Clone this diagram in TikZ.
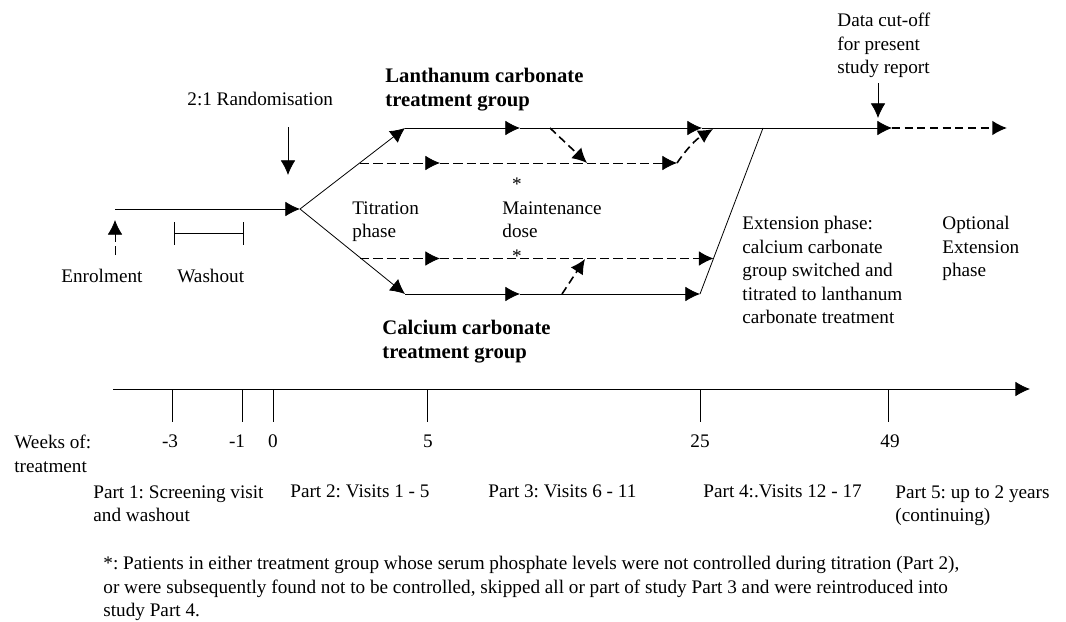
\documentclass[tikz,border=0pt]{standalone}
\usepackage{fontspec}
\setmainfont{Liberation Serif}
\usetikzlibrary{arrows.meta}
\usetikzlibrary{calc}
\frenchspacing

\begin{document}
\begin{tikzpicture}[x=0.75pt,y=-0.75pt,line width=0.6pt,
    arr/.style={-{Latex[length=11pt,width=11pt]}},
    dsh/.style={dash pattern=on 7pt off 3pt},
    bdsh/.style={line width=1.2pt,dash pattern=on 6pt off 3.5pt},
    lbl/.style={inner sep=0pt,anchor=base west,font=\fontsize{14.4}{17.6}\selectfont},
    blk/.style={inner sep=0pt,anchor=north west,align=left,font=\fontsize{14.4}{17.6}\selectfont},
    grp/.style={blk,font=\fontsize{15.5}{17.6}\selectfont\bfseries},
    num/.style={inner sep=0pt,anchor=base,font=\fontsize{14.4}{17.6}\selectfont}]
    \useasboundingbox (0,0) rectangle (1066,621);
    % main line and the two groups
    \coordinate (st) at (115,209);
    \coordinate (br) at (300,209);
    \coordinate (lu) at (405,128);
    \coordinate (lua) at (520,128);
    \coordinate (lub) at (702,128);
    \coordinate (cut) at (892,128);
    \coordinate (fin) at (1007,128);
    \coordinate (top) at (763,128);
    \coordinate (cl) at (405,294);
    \coordinate (cla) at (520,294);
    \coordinate (clb) at (700,294);
    \coordinate (lm) at (360,163);
    \coordinate (lma) at (440,163);
    \coordinate (lmb) at (677,163);
    \coordinate (mrg) at (713,129);
    \coordinate (cm) at (360,258.5);
    \coordinate (cma) at (440,258.5);
    \coordinate (cmb) at ($(clb)!0.214!(top)$);
    \draw[arr] (st) -- (br);
    \draw[arr] (br) -- (lu);
    \draw[arr] (lu) -- (lua);
    \draw[arr] (lua) -- (lub);
    \draw[arr] (lub) -- (cut);
    \draw[bdsh,arr] (cut) -- (fin);
    \draw[arr] (br) -- (cl);
    \draw[arr] (cl) -- (cla);
    \draw[arr] (cla) -- (clb);
    \draw (clb) -- (top);
    \draw[dsh,arr] (lm) -- (lma);
    \draw[dsh,arr] (lma) -- (lmb);
    \draw[dsh,arr] (cm) -- (cma);
    \draw[dsh,arr] (cma) -- (cmb |- cma);
    % patients moved between dose levels
    \coordinate (dn1) at (550,128);
    \coordinate (dn2) at (587,163);
    \coordinate (up1) at (562,294);
    \coordinate (up2) at (585,259);
    \draw[bdsh,arr] (dn1) -- (dn2);
    \draw[bdsh,arr] (lmb) to[bend left=12] (mrg);
    \draw[bdsh,arr] (up1) -- (up2);
    \node[num] (s1) at (517,190) {*};
    \node[num] (s2) at (517,262) {*};
    % enrolment, washout, randomisation, cut-off
    \coordinate (en0) at (115,255);
    \coordinate (en1) at (115,220);
    \draw[dsh,arr] (en0) -- (en1);
    \coordinate (wa) at (174,222);
    \coordinate (wb) at (243,222);
    \draw (wa) -- ++(0,23) (wb) -- ++(0,23);
    \draw (wa) ++(0,11) -- ($(wb)+(0,11)$);
    \coordinate (ra0) at (288,127);
    \coordinate (ra1) at (288,175);
    \draw[arr] (ra0) -- (ra1);
    \coordinate (co0) at (878,83);
    \coordinate (co1) at (878,118);
    \draw[arr] (co0) -- (co1);
    % labels
    \node[lbl] (rand) at (187,105) {2:1 Randomisation};
    \node[grp] (lan) at (385,68) {Lanthanum carbonate\\treatment group};
    \node[grp] (cal) at (382,320) {Calcium carbonate\\treatment group};
    \node[blk] (dco) at (837,13) {Data cut-off\\for present\\study report};
    \node[blk] (tit) at (352,201) {Titration\\phase};
    \node[blk] (mnt) at (502,201) {Maintenance\\dose};
    \node[lbl] (enr) at (61,282) {Enrolment};
    \node[lbl] (wsh) at (177,282) {Washout};
    \node[blk] (ext) at (742,216) {Extension phase:\\calcium carbonate\\group switched and\\titrated to lanthanum\\carbonate treatment};
    \node[blk] (opt) at (942,216) {Optional\\Extension\\phase};
    % time axis
    \coordinate (ax0) at (113,389);
    \coordinate (ax1) at (1030,389);
    \draw[arr] (ax0) -- (ax1);
    \foreach \x/\lx/\w in {172/170/-3,242/237/-1,273/273/0,427/428/5,700/700/25,888/890/49} {
        \draw (\x,389) -- (\x,422);
        \node[num] (wk\w) at (\lx,447) {\w};
    }
    \node[blk] (wks) at (14,435) {Weeks of:\\treatment};
    \node[blk] (p1) at (93,485) {Part 1: Screening visit\\and washout};
    \node[lbl] (p2) at (290,497) {Part 2: Visits 1 - 5};
    \node[lbl] (p3) at (488,497) {Part 3: Visits 6 - 11};
    \node[lbl] (p4) at (703,497) {Part 4:.Visits 12 - 17};
    \node[blk] (p5) at (895,485) {Part 5: up to 2 years\\(continuing)};
    \node[blk] (note) at (103,556) {*: Patients in either treatment group whose serum phosphate levels were not controlled during titration (Part 2),\\or were subsequently found not to be controlled, skipped all or part of study Part 3 and were reintroduced into\\study Part 4.};
\end{tikzpicture}
\end{document}
